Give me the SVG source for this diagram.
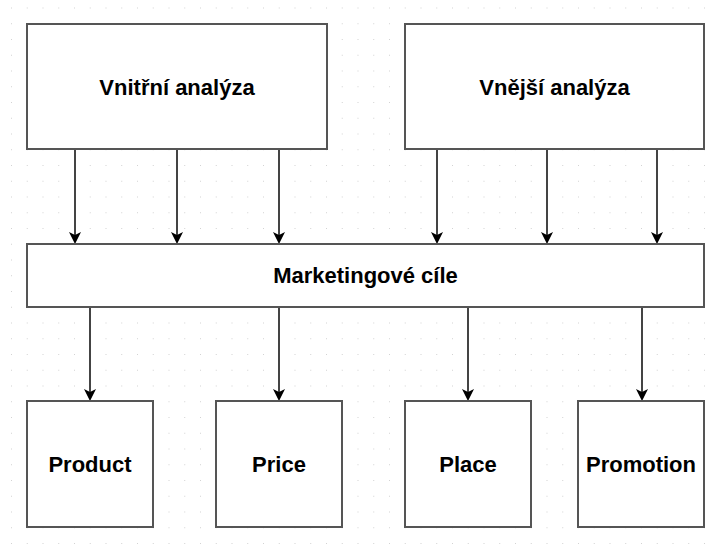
<svg xmlns="http://www.w3.org/2000/svg" width="711" height="553" viewBox="0 0 711 553">
  <defs>
    <pattern id="grid" x="11" y="7.5" width="15.75" height="15.75" patternUnits="userSpaceOnUse">
      <rect x="0" y="0" width="1" height="1" fill="#d2d2d2"/>
    </pattern>
    <marker id="arrow" markerUnits="userSpaceOnUse" markerWidth="12" markerHeight="12" viewBox="0 0 12 12" refX="9" refY="6" orient="auto">
      <path d="M0,0 L12,6 L0,12 L3,6 Z" fill="#000"/>
    </marker>
  </defs>
  <style>
    .box { fill: #ffffff; stroke: #555555; stroke-width: 2; }
    .lbl { font-family: "Liberation Sans", Arial, sans-serif; font-weight: bold; font-size: 22px; fill: #000000; text-anchor: middle; }
    .edge { stroke: #444444; stroke-width: 2; fill: none; marker-end: url(#arrow); }
  </style>
  <rect x="0" y="0" width="711" height="553" fill="#ffffff"/>
  <rect x="0" y="0" width="711" height="553" fill="url(#grid)"/>

  <g id="connectors">
    <line class="edge" x1="75" y1="149" x2="75" y2="241"/>
    <line class="edge" x1="177" y1="149" x2="177" y2="241"/>
    <line class="edge" x1="279" y1="149" x2="279" y2="241"/>
    <line class="edge" x1="437" y1="149" x2="437" y2="241"/>
    <line class="edge" x1="547" y1="149" x2="547" y2="241"/>
    <line class="edge" x1="657" y1="149" x2="657" y2="241"/>
    <line class="edge" x1="90" y1="307" x2="90" y2="398"/>
    <line class="edge" x1="279" y1="307" x2="279" y2="398"/>
    <line class="edge" x1="468" y1="307" x2="468" y2="398"/>
    <line class="edge" x1="642" y1="307" x2="642" y2="398"/>
  </g>

  <g id="vnitrni">
    <rect class="box" x="27" y="24" width="300" height="125"/>
    <text class="lbl" x="177" y="94.5">Vnitřní analýza</text>
  </g>
  <g id="vnejsi">
    <rect class="box" x="405" y="24" width="299" height="125"/>
    <text class="lbl" x="554.5" y="94.5">Vnější analýza</text>
  </g>
  <g id="cile">
    <rect class="box" x="27" y="244" width="677" height="63"/>
    <text class="lbl" x="365.5" y="283">Marketingové cíle</text>
  </g>
  <g id="product">
    <rect class="box" x="27" y="401" width="126" height="126"/>
    <text class="lbl" x="90" y="472">Product</text>
  </g>
  <g id="price">
    <rect class="box" x="216" y="401" width="126" height="126"/>
    <text class="lbl" x="279" y="472">Price</text>
  </g>
  <g id="place">
    <rect class="box" x="405" y="401" width="126" height="126"/>
    <text class="lbl" x="468" y="472">Place</text>
  </g>
  <g id="promotion">
    <rect class="box" x="578" y="401" width="126" height="126"/>
    <text class="lbl" x="641" y="472">Promotion</text>
  </g>
</svg>
